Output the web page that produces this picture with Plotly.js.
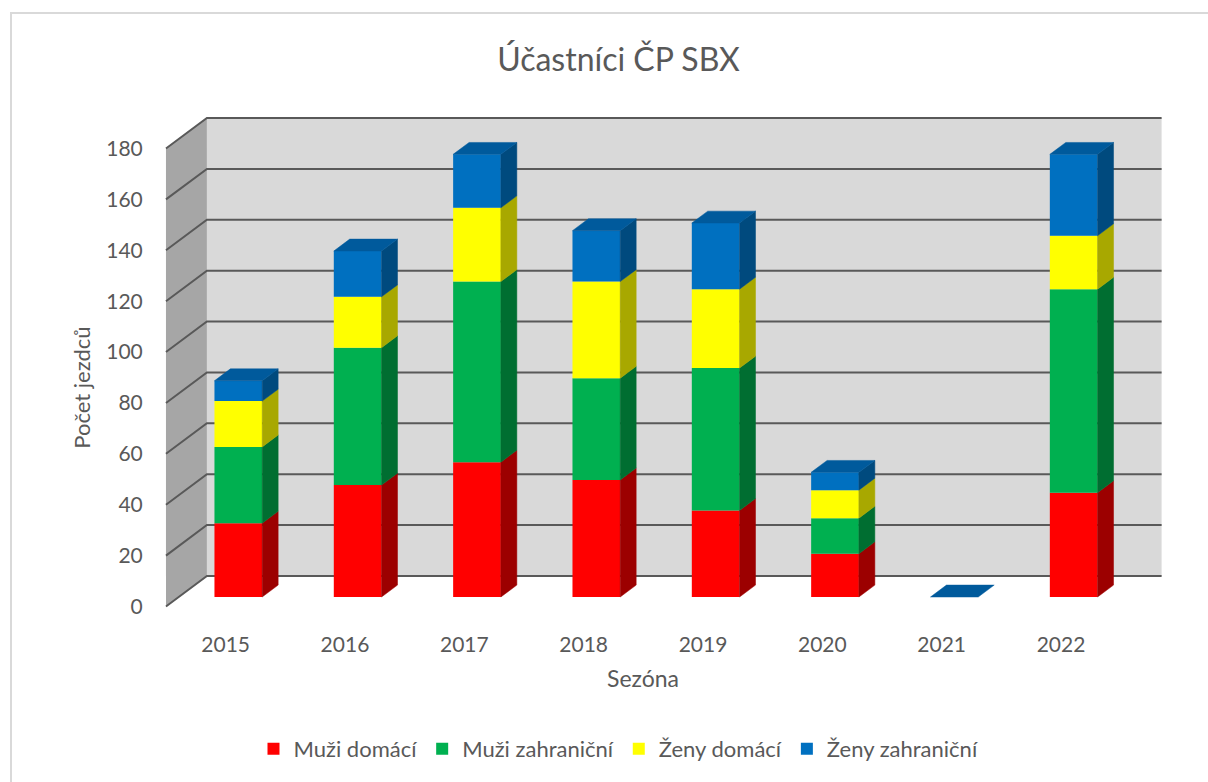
<!DOCTYPE html>
<html>
<head>
<meta charset="utf-8">
<script src="https://cdn.plot.ly/plotly-3.0.1.min.js"></script>
<style>
  html, body { margin: 0; padding: 0; background: #ffffff; overflow: hidden; }
  #chart { width: 1208px; height: 782px; }
  #frame { position: absolute; left: 10px; top: 12px; width: 1400px; height: 1000px;
           border: 2px solid #d9d9d9; pointer-events: none; }
</style>
</head>
<body>
<div id="chart"></div>
<div id="frame"></div>
<script>
// ---- data ----
const seasons = ['2015', '2016', '2017', '2018', '2019', '2020', '2021', '2022'];
const muziDomaci      = [29, 44, 53, 46, 34, 17, 0, 41];
const muziZahranicni  = [30, 54, 71, 40, 56, 14, 0, 80];
const zenyDomaci      = [18, 20, 29, 38, 31, 11, 0, 21];
const zenyZahranicni  = [ 8, 18, 21, 20, 26,  7, 0, 32];
const seriesNames = ['Muži domácí', 'Muži zahraniční', 'Ženy domácí', 'Ženy zahraniční'];
const yTickValues = [0, 20, 40, 60, 80, 100, 120, 140, 160, 180];

// ---- style ----
const frontColors = ['#FF0000', '#00B050', '#FFFF00', '#0070C0'];
const sideColors  = ['#9C0000', '#006E31', '#A8A800', '#004A7E'];
const topColor    = '#005A9C';
const textColor   = '#595959';
const FONT = 'Lato, "Open Sans", sans-serif';

// oblique depth (in axis units)
const DX = 0.343, DY = 12;
const BAR_FRONT = 0.31, BAR_BACK = 0.70, BAR_W = 0.40;
const YMAX = 180;

const allSeries = [muziDomaci, muziZahranicni, zenyDomaci, zenyZahranicni];
const idx = seasons.map((s, i) => i);
const fx = BAR_FRONT * DX, fy = BAR_FRONT * DY;
const bdx = (BAR_BACK - BAR_FRONT) * DX, bdy = (BAR_BACK - BAR_FRONT) * DY;

const traces = [];
const cum = idx.map(() => 0);
const sideTraces = [];
allSeries.forEach((vals, s) => {
  const bases = cum.slice();
  traces.push({
    type: 'bar', name: seriesNames[s],
    x: idx.map(i => i + fx), y: vals, base: bases.map(b => b + fy),
    width: BAR_W, marker: { color: frontColors[s], line: { width: 0 } },
    hoverinfo: 'skip'
  });
  const sx = [], sy = [];
  idx.forEach(i => {
    const xr = i + fx + BAR_W / 2;
    const b = bases[i] + fy, t = bases[i] + vals[i] + fy;
    if (vals[i] > 0) {
      sx.push(xr, xr + bdx, xr + bdx, xr, xr, null);
      sy.push(b, b + bdy, t + bdy, t, b, null);
    }
    cum[i] += vals[i];
  });
  sideTraces.push({
    type: 'scatter', mode: 'lines', x: sx, y: sy, fill: 'toself',
    fillcolor: sideColors[s], line: { width: 0.5, color: sideColors[s] },
    showlegend: false, hoverinfo: 'skip'
  });
});
// top faces of stacks
const tx = [], ty = [];
idx.forEach(i => {
  const xl = i + fx - BAR_W / 2, xr = i + fx + BAR_W / 2, T = cum[i] + fy;
  tx.push(xl, xr, xr + bdx, xl + bdx, xl, null);
  ty.push(T, T, T + bdy, T + bdy, T, null);
});
const topTrace = {
  type: 'scatter', mode: 'lines', x: tx, y: ty, fill: 'toself',
  fillcolor: topColor, line: { width: 0.5, color: topColor },
  showlegend: false, hoverinfo: 'skip'
};

// ---- walls & gridlines (below traces) ----
const x0 = -0.5, x1 = seasons.length - 0.5;
const shapes = [
  { type: 'path', layer: 'below', xref: 'x', yref: 'y',
    path: `M${x0 + DX},${DY} L${x1 + DX},${DY} L${x1 + DX},${YMAX + DY} L${x0 + DX},${YMAX + DY} Z`,
    fillcolor: '#D9D9D9', line: { width: 0 } },
  { type: 'path', layer: 'below', xref: 'x', yref: 'y',
    path: `M${x0},0 L${x0 + DX},${DY} L${x0 + DX},${YMAX + DY} L${x0},${YMAX} Z`,
    fillcolor: '#A6A6A6', line: { width: 0 } }
];
yTickValues.forEach(v => {
  shapes.push({ type: 'path', layer: 'below', xref: 'x', yref: 'y',
    path: `M${x0},${v} L${x0 + DX},${v + DY} L${x1 + DX},${v + DY}`,
    line: { color: '#595959', width: 2 } });
});

const layout = {
  width: 1208, height: 782,
  margin: { l: 160, r: 44, t: 117, b: 173 },
  paper_bgcolor: '#ffffff', plot_bgcolor: 'rgba(0,0,0,0)',
  font: { family: FONT, color: textColor },
  title: { text: 'Účastníci ČP SBX', font: { size: 32, color: textColor, family: FONT },
           x: 0.512, xref: 'container', xanchor: 'center', y: 1 - 60 / 782, yref: 'container', yanchor: 'middle' },
  barmode: 'overlay',
  showlegend: true,
  legend: { orientation: 'h', xref: 'container', yref: 'container', x: 0.512, xanchor: 'center',
            y: 1 - 749 / 782, yanchor: 'middle', font: { size: 22, color: textColor }, traceorder: 'normal' },
  xaxis: { range: [-0.55, x1 + DX + 0.02], tickmode: 'array', tickvals: idx, ticktext: seasons,
           showgrid: false, zeroline: false, showline: false, ticks: 'outside', ticklen: 17,
           tickcolor: 'rgba(0,0,0,0)', tickfont: { size: 21, color: textColor }, fixedrange: true },
  yaxis: { range: [-1, YMAX + DY + 0.4], tickmode: 'array', tickvals: yTickValues,
           showgrid: false, zeroline: false, showline: false, ticks: 'outside', ticklen: 12,
           tickcolor: 'rgba(0,0,0,0)', tickfont: { size: 21, color: textColor }, fixedrange: true },
  shapes: shapes,
  annotations: [
    { text: 'Sezóna', xref: 'x', yref: 'paper', x: (x0 + x1) / 2, y: -(679 - 609.5) / 492.5,
      yanchor: 'middle', xanchor: 'center', showarrow: false, font: { size: 23, color: textColor } },
    { text: 'Počet jezdců', xref: 'paper', yref: 'y', x: -(160 - 82) / 1004, y: 86,
      textangle: -90, xanchor: 'center', yanchor: 'middle', showarrow: false,
      font: { size: 22, color: textColor } }
  ]
};

Plotly.newPlot('chart', traces.concat(sideTraces, [topTrace]), layout, { staticPlot: true, displayModeBar: false });
</script>
</body>
</html>
